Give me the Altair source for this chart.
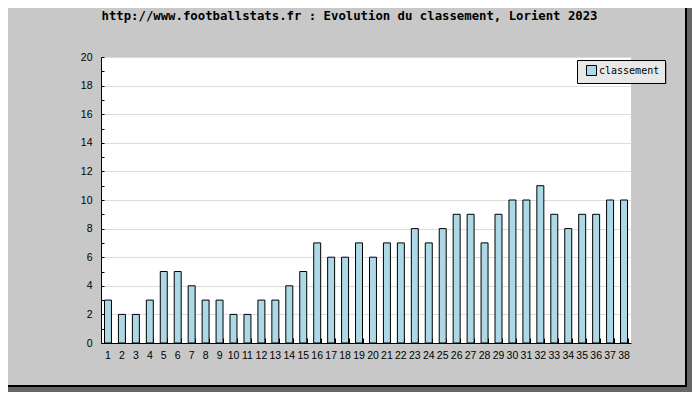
import altair as alt
import pandas as pd

journees = [str(i) for i in range(1, 39)]
classement = [3, 2, 2, 3, 5, 5, 4, 3, 3, 2, 2, 3, 3, 4, 5, 7, 6, 6, 7, 6,
              7, 7, 8, 7, 8, 9, 9, 7, 9, 10, 10, 11, 9, 8, 9, 9, 10, 10]
serie = "classement"
titre = "http://www.footballstats.fr : Evolution du classement, Lorient 2023"
y_major = list(range(0, 21, 2))
y_minor = list(range(0, 21))

df = pd.DataFrame({"j": journees, "v": classement, "s": [serie] * len(journees)})
one = pd.DataFrame({"a": [0]})

W, H = 530, 286
xscale = alt.Scale(paddingInner=0.5, paddingOuter=0.25)
yscale = alt.Scale(domain=[0, 20], nice=False)

bars = alt.Chart(df).mark_bar(stroke="black", strokeWidth=1).encode(
    x=alt.X("j:O", sort=journees, scale=xscale,
            axis=alt.Axis(title=None, orient="bottom", labelAngle=0, ticks=False, tickSize=0,
                          domainColor="black", domainWidth=1, labelPadding=7,
                          labelFont="Liberation Sans", labelFontSize=10.5, labelColor="black",
                          grid=False)),
    y=alt.Y("v:Q", scale=yscale,
            axis=alt.Axis(title=None, orient="left", values=y_major, ticks=False, tickSize=0,
                          domainColor="black", domainWidth=1, labelPadding=9,
                          labelFont="Liberation Sans", labelFontSize=10.5, labelColor="black",
                          grid=True, gridColor="#dcdcdc", gridWidth=1)),
    color=alt.Color("s:N", scale=alt.Scale(range=["#add8e6"]),
                    legend=alt.Legend(orient="none", legendX=476, legendY=3, title=None,
                                      fillColor="#e8e8e8", strokeColor="black",
                                      padding=5, symbolOffset=4, symbolType="square",
                                      symbolSize=100, symbolStrokeColor="black",
                                      symbolStrokeWidth=1, symbolFillColor="#add8e6",
                                      labelFont="DejaVu Sans Mono", labelFontSize=10,
                                      labelColor="black", labelOffset=2, cornerRadius=0)),
)

ticks = alt.Chart(df).mark_bar(opacity=0).encode(
    x=alt.X("j:O", sort=journees, scale=xscale,
            axis=alt.Axis(title=None, orient="bottom", labels=False, domain=False, ticks=True,
                          tickSize=5, offset=-5, tickBand="extent", tickColor="black",
                          grid=False)),
    y=alt.Y("v:Q", scale=yscale,
            axis=alt.Axis(title=None, orient="left", values=y_minor, labels=False, domain=False,
                          ticks=True, tickSize=3, offset=-3, tickColor="black", grid=False)),
)

def rect(x, x2, y, y2, color):
    return alt.Chart(one).mark_rect(color=color).encode(
        x=alt.value(x), x2=alt.value(x2), y=alt.value(y), y2=alt.value(y2))

shadow_r = rect(586, 591, -52, 335, "#666666")
shadow_b = rect(-96, 591, 330, 335, "#666666")
border_r = rect(584, 586, -57, 330, "black")
border_b = rect(-101, 586, 328, 330, "black")
leg_shadow = rect(479, 566, 6, 27, "#9a9a9a")

title = alt.Chart(one).mark_text(
    text=titre, font="DejaVu Sans Mono", fontSize=12.3, fontWeight="bold",
    color="black", align="center", baseline="top").encode(
    x=alt.value(248.5), y=alt.value(-47))

chart = alt.layer(
    shadow_r, shadow_b, border_r, border_b, leg_shadow, ticks, bars, title
).resolve_axis(x="independent", y="independent").properties(
    width=W, height=H,
    autosize=alt.AutoSizeParams(type="none"),
    padding={"left": 93, "top": 49, "right": 61, "bottom": 49},
    background="#c8c8c8",
).configure_view(stroke=None, fill="white").configure_legend(strokeWidth=1)

chart.save("out.html", embed_options={"renderer": "svg", "actions": False})
